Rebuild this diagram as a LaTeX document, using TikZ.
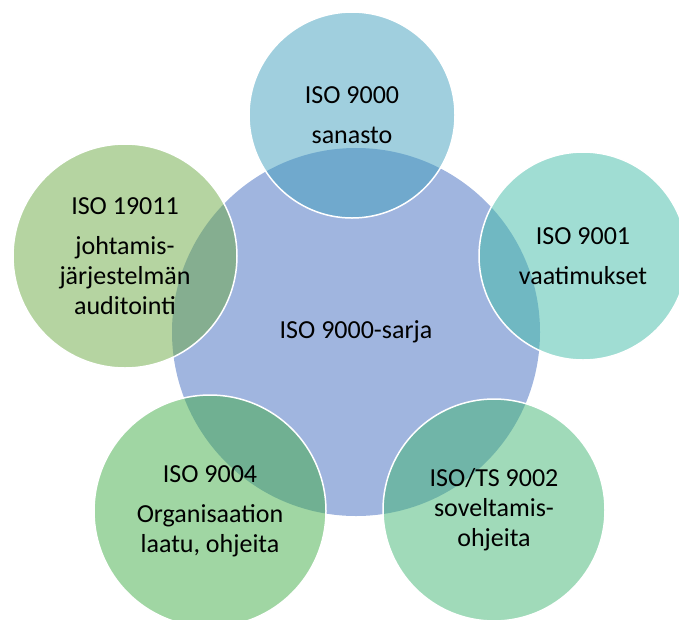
\documentclass[tikz,border=0pt]{standalone}
\usepackage{fontspec}
\setmainfont{Carlito}
\usepackage{xcolor}
\usepackage{tikz}
\definecolor{ISOCenter}{HTML}{A0B5DF}
\definecolor{ISOTop}{HTML}{419FBD}
\definecolor{ISORight}{HTML}{41BBA7}
\definecolor{ISOLowRight}{HTML}{41B573}
\definecolor{ISOLowLeft}{HTML}{41AD47}
\definecolor{ISOLeft}{HTML}{6BA943}
\tikzset{
  isotext/.style={align=center,font=\fontsize{26}{30}\selectfont,inner sep=0pt},
  isoring/.style={circle,isotext,fill=#1,fill opacity=0.5,text opacity=1,draw=white,line width=1.5pt},
}

\begin{document}
\begin{tikzpicture}[x=1pt,y=-1pt]
\path[use as bounding box] (0,0) rectangle (679,619);
\node[circle,isotext,fill=ISOCenter,minimum size=368pt] (sarja) at (356,332) {ISO 9000-sarja};
\node[isoring=ISOTop,minimum size=206pt] (sanasto) at (352,115) {ISO 9000\\[10pt]sanasto};
\node[isoring=ISORight,minimum size=208pt] (vaatimukset) at (583,256) {ISO 9001\\[10pt]vaatimukset};
\node[isoring=ISOLowRight,minimum size=222pt] (soveltamis) at (494,510) {ISO/TS 9002\\soveltamis-\\ohjeita};
\node[isoring=ISOLowLeft,minimum size=232pt] (organisaatio) at (210,511) {ISO 9004\\[10pt]Organisaation\\laatu, ohjeita};
\node[isoring=ISOLeft,minimum size=224pt] (auditointi) at (125,256) {ISO 19011\\[10pt]johtamis-\\järjestelmän\\auditointi};
\end{tikzpicture}
\end{document}
